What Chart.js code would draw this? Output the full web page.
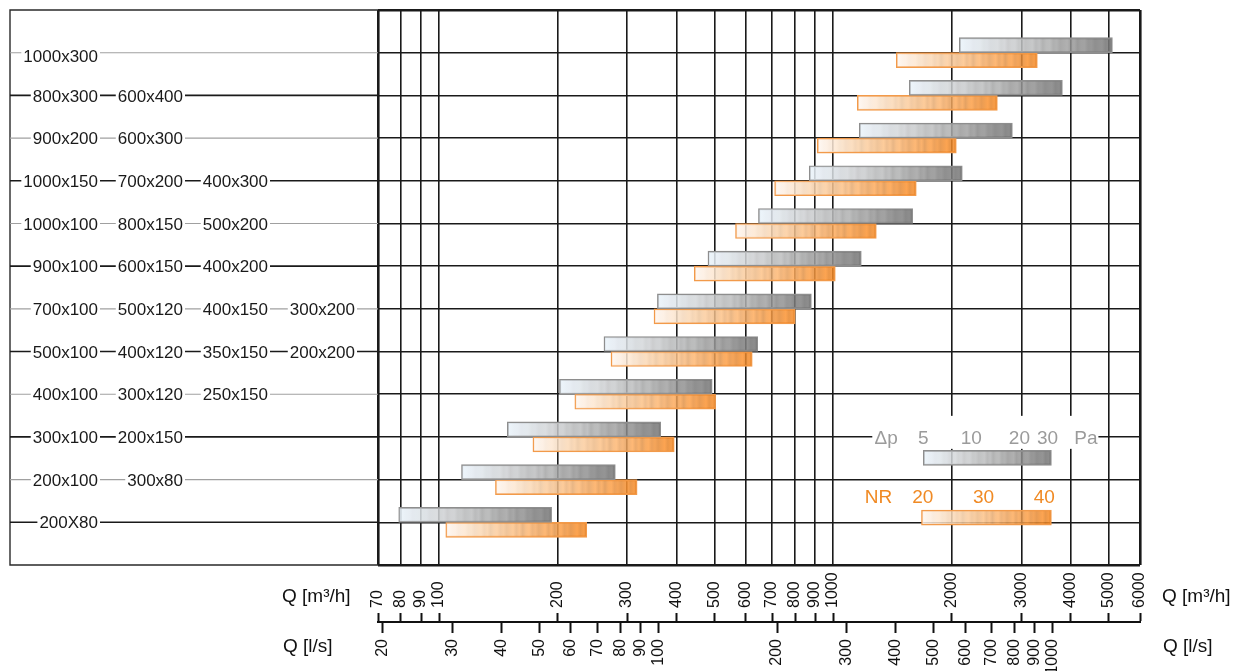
<!DOCTYPE html>
<html><head><meta charset="utf-8">
<script src="https://cdn.jsdelivr.net/npm/chart.js@4.4.1/dist/chart.umd.min.js"></script>
<style>
html,body{margin:0;padding:0;background:#fff;}
#wrap{position:relative;width:1237px;height:671px;overflow:hidden;}
#main{position:absolute;left:0;top:0;}
#axes{position:absolute;left:0;top:560px;}
</style></head><body>
<div id="wrap"><canvas id="main" width="1237" height="671"></canvas><canvas id="axes" width="1237" height="111"></canvas></div>
<script>
// ---------- data ----------
const rowLabels = [
  ["1000x300"],
  ["800x300","600x400"],
  ["900x200","600x300"],
  ["1000x150","700x200","400x300"],
  ["1000x100","800x150","500x200"],
  ["900x100","600x150","400x200"],
  ["700x100","500x120","400x150","300x200"],
  ["500x100","400x120","350x150","200x200"],
  ["400x100","300x120","250x150"],
  ["300x100","200x150"],
  ["200x100","300x80"],
  ["200X80"]
];
// air flow Q [m3/h] at dp = 5 Pa (start) and 30 Pa (end)
const dpStart = [2088,1559,1164,869,646,481,358,262,202,149,114,79];
const dpEnd   = [5107,3813,2847,2125,1590,1178,880,643,493,365,280,193];
// air flow Q [m3/h] at NR 20 (start) and NR 40 (end)
const nrStart = [1445,1151,911,710,565,444,351,273,221,173,139,104];
const nrEnd   = [3294,2608,2052,1624,1286,1012,801,623,503,395,318,237];
const ticksM3h = [70,80,90,100,200,300,400,500,600,700,800,900,1000,2000,3000,4000,5000,6000];
const ticksLs  = [20,30,40,50,60,70,80,90,100,200,300,400,500,600,700,800,900,1000];
const legendDpValues = [5,10,20,30];
const legendNrValues = [20,30,40];
const legendDpRange = [1692,3576];
const legendNrRange = [1674,3576];

// ---------- layout / style constants ----------
const FAM = '"Liberation Sans", Arial, Helvetica, sans-serif';
Chart.defaults.font.family = FAM;
const ROWS = rowLabels.length;
const LEG_ROW_DP = 10.49, LEG_ROW_NR = 11.89;
const BOX_LEFT = 10;
const COL_RIGHT = [98,183,268,355];
const GREY = [[0,[234,243,251]],[0.3,[204,206,208]],[0.7,[156,156,156]],[1,[114,114,114]]];
const ORANGE = [[0,[254,247,241]],[0.3,[245,206,166]],[0.7,[242,164,90]],[1,[239,134,36]]];
const STRIPE = [0,0.05,-0.04,0.03,-0.07,0.02,0.05,-0.03,0.01,-0.05];

function interp(cols, t){
  for (let i=0;i<cols.length-1;i++){
    const [t0,c0]=cols[i],[t1,c1]=cols[i+1];
    if (t<=t1){ const f=(t-t0)/(t1-t0); return c0.map((v,k)=>v+(c1[k]-v)*f); }
  }
  return cols[cols.length-1][1];
}
function makeGrad(chart, x0, x1, cols, alpha){
  const g = chart.ctx.createLinearGradient(x0,0,x1,0);
  const N = 44;
  for (let i=0;i<=N;i++){
    const t=i/N;
    const k = STRIPE[i%STRIPE.length]*Math.min(1,t*1.6);
    const c = interp(cols,t).map(v=>Math.max(0,Math.min(255,Math.round(v*(1+k)))));
    g.addColorStop(t,`rgba(${c[0]},${c[1]},${c[2]},${alpha})`);
  }
  return g;
}
function fill(cols){
  return (c)=>{
    if (c.type!=='data' || !c.chart.chartArea) return 'rgba(0,0,0,0)';
    const xs=c.chart.scales.x, r=c.raw.x;
    return makeGrad(c.chart, xs.getPixelForValue(r[0]), xs.getPixelForValue(r[1]), cols, 0.85);
  };
}
const rowData = (s,e)=>s.map((v,i)=>({y:i+1, x:[v,e[i]]}));

// ---------- plugins ----------
const rowLabelPlugin = {
  id:'rowLabels',
  afterDraw(chart){
    const {ctx, chartArea:ca, scales:{x,y}} = chart;
    ctx.save();
    ctx.strokeStyle='#2a2a2a'; ctx.lineWidth=1.4;
    ctx.beginPath(); ctx.moveTo(ca.left,ca.top); ctx.lineTo(BOX_LEFT,ca.top); ctx.lineTo(BOX_LEFT,ca.bottom); ctx.lineTo(ca.left,ca.bottom); ctx.stroke();
    ctx.font='17px '+FAM; ctx.textBaseline='middle'; ctx.textAlign='right';
    rowLabels.forEach((labs,i)=>{
      const py=y.getPixelForValue(i+1);
      const dark=i%2===1;
      ctx.strokeStyle=dark?'#1a1a1a':'#a0a0a0'; ctx.lineWidth=dark?1.6:1.1;
      ctx.beginPath(); ctx.moveTo(BOX_LEFT,py); ctx.lineTo(ca.left,py); ctx.stroke();
      labs.forEach((t,j)=>{
        const xr=COL_RIGHT[j], w=ctx.measureText(t).width;
        ctx.fillStyle='#fff'; ctx.fillRect(xr-w-2,py-8,w+4,17);
        ctx.fillStyle='#1a1a1a'; ctx.fillText(t,xr,py+(i===0?5:1.5));
      });
    });
    // legend texts
    ctx.font='19px '+FAM; ctx.textAlign='center';
    let x0=x.getPixelForValue(legendDpRange[0]), x1=x.getPixelForValue(legendDpRange[1]);
    let cy=y.getPixelForValue(LEG_ROW_DP)-19;
    ctx.fillStyle='#fff'; ctx.fillRect(x0-51,cy-23,x1-x0+98,33);
    ctx.fillStyle='#9b9b9b';
    const dpItems=[["Δp",-0.29]].concat(legendDpValues.map(v=>[String(v),0.97*Math.log(v/legendDpValues[0])/Math.log(legendDpValues[legendDpValues.length-1]/legendDpValues[0])]),[["Pa",1.27]]);
    dpItems.forEach(([t,f])=>ctx.fillText(t,x0+f*(x1-x0),cy));
    x0=x.getPixelForValue(legendNrRange[0]); x1=x.getPixelForValue(legendNrRange[1]);
    cy=y.getPixelForValue(LEG_ROW_NR)-20;
    ctx.fillStyle='#f08a24';
    const n0=legendNrValues[0], n1=legendNrValues[legendNrValues.length-1];
    const nrItems=[["NR",-0.33]].concat(legendNrValues.map(v=>[String(v),0.01+0.935*(v-n0)/(n1-n0)]));
    nrItems.forEach(([t,f])=>ctx.fillText(t,x0+f*(x1-x0),cy));
    ctx.restore();
  }
};

const frameW = (vals)=>(c)=>(c.tick && (c.tick.value===vals[0]||c.tick.value===vals[1]))?2.6:1.6;

new Chart(document.getElementById('main'),{
  type:'bar',
  data:{datasets:[
    {data:rowData(dpStart,dpEnd), backgroundColor:fill(GREY), borderColor:'#8e8e8e', borderWidth:1.4, borderSkipped:false, barThickness:15},
    {data:rowData(nrStart,nrEnd), backgroundColor:fill(ORANGE), borderColor:'#f29a4a', borderWidth:1.4, borderSkipped:false, barThickness:15},
    {data:[{y:LEG_ROW_DP,x:legendDpRange}], grouped:false, backgroundColor:fill(GREY), borderColor:'#8e8e8e', borderWidth:1.4, borderSkipped:false, barThickness:15},
    {data:[{y:LEG_ROW_NR,x:legendNrRange}], grouped:false, backgroundColor:fill(ORANGE), borderColor:'#f29a4a', borderWidth:1.4, borderSkipped:false, barThickness:15}
  ]},
  options:{
    indexAxis:'y', responsive:false, animation:false, events:[],
    layout:{padding:{left:378,right:97,top:10,bottom:106}},
    plugins:{legend:{display:false},tooltip:{enabled:false}},
    scales:{
      x:{type:'logarithmic',min:ticksM3h[0],max:ticksM3h[ticksM3h.length-1],offset:false,
         afterBuildTicks:s=>{s.ticks=ticksM3h.map(v=>({value:v}));},
         afterFit:s=>{s.height=0;},
         ticks:{display:false},
         grid:{offset:false,color:'#1a1a1a',lineWidth:frameW([ticksM3h[0],ticksM3h[ticksM3h.length-1]]),drawTicks:false},
         border:{display:false}},
      y:{type:'linear',reverse:true,min:0,max:ROWS+1,offset:false,
         afterBuildTicks:s=>{const t=[];for(let i=0;i<=ROWS+1;i++)t.push({value:i});s.ticks=t;},
         afterFit:s=>{s.width=0;},
         ticks:{display:false},
         grid:{offset:false,color:'#1a1a1a',lineWidth:frameW([0,ROWS+1]),drawTicks:false},
         border:{display:false}}
    }
  },
  plugins:[rowLabelPlugin]
});

// ---------- bottom double axis ----------
const titlePlugin = {
  id:'titles',
  afterDraw(chart){
    const {ctx,chartArea:ca}=chart;
    ctx.save();
    ctx.font='19px '+FAM; ctx.fillStyle='#111'; ctx.textBaseline='middle'; ctx.textAlign='left';
    ctx.fillText('Q [m³/h]',ca.left-96,ca.top-25);
    ctx.fillText('Q [l/s]',ca.left-95,ca.top+25);
    ctx.fillText('Q [m³/h]',ca.right+22,ca.top-25);
    ctx.fillText('Q [l/s]',ca.right+23,ca.top+25);
    ctx.restore();
  }
};
const tickFont={size:16,family:FAM};
new Chart(document.getElementById('axes'),{
  type:'bar',
  data:{datasets:[]},
  options:{
    responsive:false, animation:false, events:[],
    layout:{padding:{left:378,right:97,top:0,bottom:0}},
    plugins:{legend:{display:false},tooltip:{enabled:false}},
    scales:{
      xm:{type:'logarithmic',position:'top',offset:false,min:ticksM3h[0],max:ticksM3h[ticksM3h.length-1],
          afterBuildTicks:s=>{s.ticks=ticksM3h.map(v=>({value:v}));},
          afterFit:s=>{s.height=62;},
          ticks:{autoSkip:false,minRotation:90,maxRotation:90,padding:5,labelOffset:19,color:'#111',font:tickFont,callback:v=>String(v)},
          grid:{offset:false,drawOnChartArea:false,drawTicks:true,tickLength:9,tickWidth:2,tickColor:'#111'},
          border:{display:true,color:'#111',width:2}},
      xl:{type:'logarithmic',position:'bottom',offset:false,min:ticksM3h[0]/3.6,max:ticksM3h[ticksM3h.length-1]/3.6,
          afterBuildTicks:s=>{s.ticks=ticksLs.map(v=>({value:v}));},
          afterFit:s=>{s.height=48;},
          ticks:{autoSkip:false,minRotation:90,maxRotation:90,padding:6,color:'#111',font:tickFont,callback:v=>String(v)},
          grid:{offset:false,drawOnChartArea:false,drawTicks:true,tickLength:10,tickWidth:2,tickColor:'#111'},
          border:{display:false}},
      y:{display:false}
    }
  },
  plugins:[titlePlugin]
});
</script>
</body></html>
